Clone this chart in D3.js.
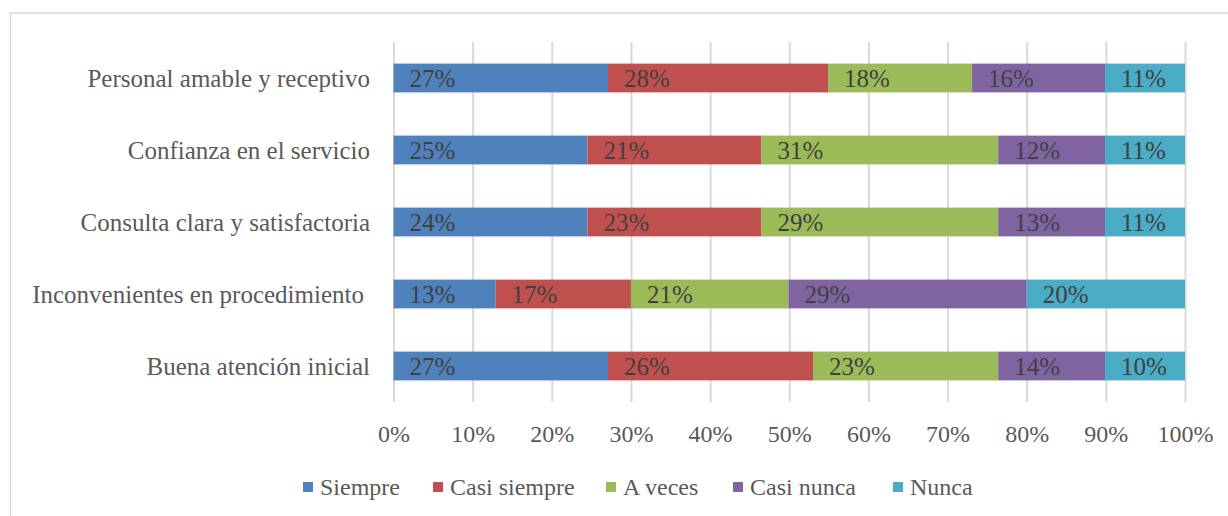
<!DOCTYPE html>
<html lang="es">
<head>
<meta charset="utf-8">
<title>Percepción del servicio</title>
<script src="https://cdn.jsdelivr.net/npm/d3@7"></script>
<style>
  body { margin: 0; background: #fff; }
  svg text { font-family: "Liberation Serif", "DejaVu Serif", serif; }
</style>
</head>
<body>
<script>
// categories, top to bottom
var categories = ["Personal amable y receptivo", "Confianza en el servicio",
                  "Consulta clara y satisfactoria", "Inconvenientes en procedimiento",
                  "Buena atención inicial"];
var seriesNames = ["Siempre", "Casi siempre", "A veces", "Casi nunca", "Nunca"];
var colors = ["#4F81BD", "#C0504D", "#9BBB59", "#8064A2", "#4BACC6"];

// bar lengths as drawn (percent of the bar)
var siempre     = [27.1, 24.5, 24.5, 12.9, 27.1];
var casiSiempre = [27.8, 22.0, 22.0, 17.1, 25.9];
var aVeces      = [18.2, 29.9, 29.9, 19.9, 23.4];
var casiNunca   = [16.8, 13.5, 13.5, 30.1, 13.5];
var nunca       = [10.1, 10.1, 10.1, 20.0, 10.1];

// percentages printed on the bars
var lblSiempre     = [27, 25, 24, 13, 27];
var lblCasiSiempre = [28, 21, 23, 17, 26];
var lblAVeces      = [18, 31, 29, 21, 23];
var lblCasiNunca   = [16, 12, 13, 29, 14];
var lblNunca       = [11, 11, 11, 20, 10];

var xTicks = [0, 10, 20, 30, 40, 50, 60, 70, 80, 90, 100];

var w = 1228, h = 516;
var series = [siempre, casiSiempre, aVeces, casiNunca, nunca];
var labels = [lblSiempre, lblCasiSiempre, lblAVeces, lblCasiNunca, lblNunca];

var rows = categories.map(function(c, i) {
    var r = { cat: c };
    seriesNames.forEach(function(s, j) { r[s] = series[j][i]; });
    return r;
});
var stacked = d3.stack().keys(seriesNames)(rows);

var svg = d3.select("body").append("svg")
    .attr("width", w)
    .attr("height", h);

// chart frame
svg.append("rect")
   .attr("x", 10.5).attr("y", 13)
   .attr("width", 1240).attr("height", 520)
   .attr("fill", "none")
   .attr("stroke", "#D9D9D9")
   .attr("stroke-width", 1.5);

var x = d3.scaleLinear().domain([0, 100]).range([393.5, 1185]);
var y = d3.scaleBand().domain(categories).range([42, 402])
          .paddingInner(0.6).paddingOuter(0.3);

// gridlines + tick labels
var xAxis = svg.append("g")
    .attr("transform", "translate(0,402)")
    .call(d3.axisBottom(x).tickValues(xTicks).tickSize(-360)
            .tickFormat(function(d) { return d + "%"; }));
xAxis.select(".domain").remove();
xAxis.selectAll("line").attr("stroke", "#D9D9D9").attr("stroke-width", 2);
xAxis.selectAll("text")
     .attr("y", 32).attr("dy", "0.35em")
     .attr("fill", "#595959")
     .attr("font-size", "24px");

// category labels
svg.selectAll("text.cat")
   .data(categories)
   .enter()
   .append("text")
   .attr("class", "cat")
   .text(function(d) { return d; })
   .attr("x", function(d, i) { return i == 3 ? 364 : 370; })
   .attr("y", function(d) { return y(d) + y.bandwidth() / 2; })
   .attr("dy", "0.35em")
   .attr("text-anchor", "end")
   .attr("fill", "#595959")
   .attr("font-size", "25px");

// bars
var groups = svg.selectAll("g.layer")
    .data(stacked)
    .enter()
    .append("g")
    .attr("class", "layer")
    .attr("fill", function(d, i) { return colors[i]; });

groups.selectAll("rect")
    .data(function(d) { return d; })
    .enter()
    .append("rect")
    .attr("x", function(d) { return x(d[0]); })
    .attr("y", function(d) { return y(d.data.cat); })
    .attr("width", function(d) { return x(d[1]) - x(d[0]); })
    .attr("height", y.bandwidth());

// data labels, near the start of each segment
groups.selectAll("text")
    .data(function(d, j) {
        return d.map(function(p, i) { return { p: p, lbl: labels[j][i] }; });
    })
    .enter()
    .append("text")
    .text(function(d) { return d.lbl + "%"; })
    .attr("x", function(d) { return x(d.p[0]) + 16; })
    .attr("y", function(d) { return y(d.p.data.cat) + y.bandwidth() / 2; })
    .attr("dy", "0.35em")
    .attr("fill", "#404040")
    .attr("font-size", "25px");

// legend
var legX = [303, 433, 606, 733, 893];
var leg = svg.selectAll("g.leg")
    .data(seriesNames)
    .enter()
    .append("g")
    .attr("class", "leg")
    .attr("transform", function(d, i) { return "translate(" + legX[i] + ",487)"; });
leg.append("rect")
   .attr("x", 0).attr("y", -5)
   .attr("width", 10).attr("height", 10)
   .attr("fill", function(d, i) { return colors[i]; });
leg.append("text")
   .text(function(d) { return d; })
   .attr("x", 17)
   .attr("dy", "0.35em")
   .attr("fill", "#595959")
   .attr("font-size", "24px");
</script>
</body>
</html>
